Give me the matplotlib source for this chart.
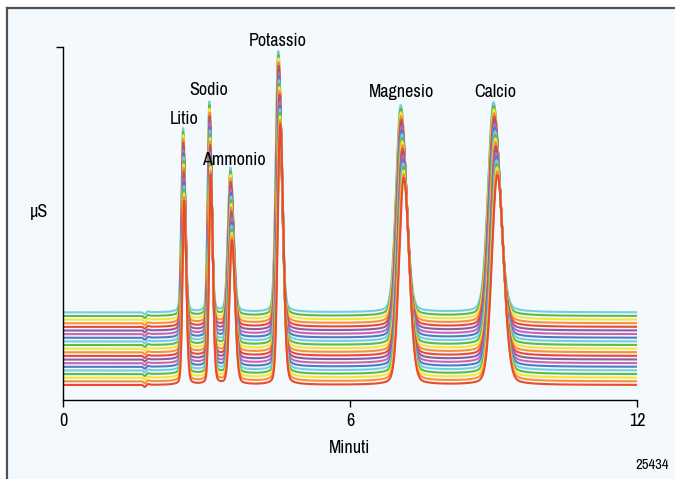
import numpy as np
import matplotlib
matplotlib.use('Agg')
import matplotlib.pyplot as plt
from matplotlib import font_manager as fm

# picchi del cromatogramma (tempo in minuti, altezza in µS arbitrari)
ioni = ['Litio', 'Sodio', 'Ammonio', 'Potassio', 'Magnesio', 'Calcio']
tempi = [2.51, 3.06, 3.50, 4.50, 7.06, 9.00]
altezze = [184, 210, 144, 261, 207, 210]
sigma_sx = [0.034, 0.034, 0.050, 0.050, 0.095, 0.112]
sigma_dx = [0.044, 0.044, 0.062, 0.064, 0.112, 0.128]

# piccolo disturbo dopo l'iniezione
t_disturbo = 1.71
h_disturbo = -2.2

n_tracce = 21
x_ticks = [0, 6, 12]

colori = ['#ec4a2e', '#f7923a', '#f6e63a', '#5fbb47',
          '#76cde2', '#4c7cc2', '#c965ad', '#8f5aa8']

# font stretto se disponibile
nomi = sorted(set(f.name for f in fm.fontManager.ttflist))
stretti = [n for n in nomi if 'Narrow' in n or 'Condensed' in n]
plt.rcParams['font.family'] = stretti[:1] + ['Liberation Sans', 'DejaVu Sans']
plt.rcParams['font.stretch'] = 'condensed'
fs = 13 if stretti else 10.5

fondo = '#f3f9fd'
fig = plt.figure(figsize=(6.75, 4.79), dpi=100)
fig.patch.set_facecolor('white')

# cornice del riquadro (visibile solo sopra e a sinistra)
sfondo = fig.add_axes([7/675, 0, 1-7/675, 1-8/479])
sfondo.set_facecolor(fondo)
sfondo.set_xticks([]); sfondo.set_yticks([])
for s in ['right', 'bottom']:
    sfondo.spines[s].set_visible(False)
for s in ['left', 'top']:
    sfondo.spines[s].set_color('#505050')
    sfondo.spines[s].set_linewidth(1.6)

ax = fig.add_axes([63/675, 79/479, 574/675, 353/479])
ax.patch.set_alpha(0)

t = np.linspace(0, 12, 6000)

def picco(t, t0, h, s1, s2):
    s = np.where(t < t0, s1, s2)
    g = np.exp(-0.5*((t - t0)/s)**2)
    lor = 1/(1 + ((t - t0)/(1.6*s))**2)
    return h*(0.9*g + 0.1*lor)

passo = 3.63
for i in range(n_tracce-1, -1, -1):
    deriva = 1 + 0.00045*(n_tracce-1-i)
    y = np.full_like(t, 15 + i*passo)
    for t0, h, s1, s2 in zip(tempi, altezze, sigma_sx, sigma_dx):
        y += picco(t, t0*deriva, h, s1, s2)
    y += h_disturbo*np.exp(-0.5*((t - t_disturbo)/0.025)**2)
    y += 0.8*np.exp(-0.5*((t - t_disturbo - 0.07)/0.03)**2)
    ax.plot(t, y, color=colori[i % len(colori)], linewidth=1.5, solid_capstyle='butt')

ax.set_xlim(0, 12)
ax.set_ylim(0, 353)

for s in ['top', 'right']:
    ax.spines[s].set_visible(False)
ax.spines['left'].set_color('black')
ax.spines['bottom'].set_color('black')
ax.spines['left'].set_linewidth(1.0)
ax.spines['bottom'].set_linewidth(1.0)

ax.set_xticks(x_ticks)
ax.set_xticklabels([str(v) for v in x_ticks], fontsize=fs)
ax.set_yticks([353])
ax.set_yticklabels([''])
ax.tick_params(axis='both', direction='out', length=5, width=1.0, pad=4)

ax.set_xlabel('Minuti', fontsize=fs, labelpad=8)
fig.text(39/675, 1-212/479, 'µS', fontsize=fs, ha='center', va='center')

# etichette dei picchi
pos_etichette = [(184, 119), (209, 90), (234, 160), (278, 41), (401, 92), (495, 92)]
for nome, (px, py) in zip(ioni, pos_etichette):
    fig.text(px/675, 1-py/479, nome, fontsize=fs, ha='center', va='center')

fig.text(652/675, 1-465/479, '25434', fontsize=fs-2.5, ha='center', va='center')

plt.savefig('out.png', dpi=100)
